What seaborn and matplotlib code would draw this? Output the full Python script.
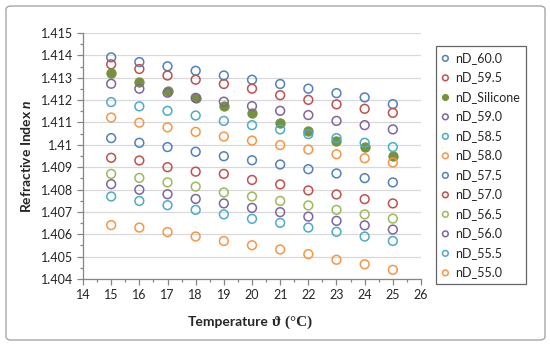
import matplotlib
matplotlib.use("Agg")
import matplotlib.pyplot as plt
import numpy as np
import pandas as pd
import seaborn as sns
from matplotlib.patches import FancyBboxPatch
from matplotlib.ticker import FuncFormatter, MultipleLocator

temperature = [15, 16, 17, 18, 19, 20, 21, 22, 23, 24, 25]

nd_60_0 = [1.41391, 1.41370, 1.41351, 1.41331, 1.41310, 1.41291, 1.41272, 1.41251, 1.41231, 1.41212, 1.41182]
nd_59_5 = [1.41360, 1.41339, 1.41310, 1.41291, 1.41272, 1.41251, 1.41222, 1.41201, 1.41181, 1.41161, 1.41143]
nd_silicone = [1.41321, 1.41282, 1.41242, 1.41210, 1.41172, 1.41143, 1.41099, 1.41060, 1.41018, 1.40990, 1.40950]
nd_59_0 = [1.41273, 1.41251, 1.41233, 1.41210, 1.41193, 1.41173, 1.41152, 1.41133, 1.41107, 1.41088, 1.41069]
nd_58_5 = [1.41191, 1.41172, 1.41152, 1.41131, 1.41107, 1.41088, 1.41069, 1.41048, 1.41030, 1.41009, 1.40990]
nd_58_0 = [1.41122, 1.41099, 1.41078, 1.41058, 1.41037, 1.41019, 1.40999, 1.40979, 1.40958, 1.40940, 1.40921]
nd_57_5 = [1.41030, 1.41009, 1.40990, 1.40969, 1.40949, 1.40931, 1.40912, 1.40891, 1.40872, 1.40851, 1.40832]
nd_57_0 = [1.40942, 1.40930, 1.40900, 1.40880, 1.40870, 1.40843, 1.40823, 1.40796, 1.40778, 1.40757, 1.40738]
nd_56_5 = [1.40870, 1.40852, 1.40832, 1.40813, 1.40787, 1.40769, 1.40749, 1.40729, 1.40709, 1.40689, 1.40670]
nd_56_0 = [1.40824, 1.40799, 1.40779, 1.40758, 1.40738, 1.40718, 1.40699, 1.40679, 1.40660, 1.40640, 1.40621]
nd_55_5 = [1.40769, 1.40749, 1.40730, 1.40709, 1.40689, 1.40669, 1.40651, 1.40630, 1.40611, 1.40590, 1.40570]
nd_55_0 = [1.40641, 1.40630, 1.40610, 1.40590, 1.40570, 1.40551, 1.40532, 1.40511, 1.40486, 1.40466, 1.40441]

series_names = ["nD_60.0", "nD_59.5", "nD_Silicone", "nD_59.0", "nD_58.5", "nD_58.0",
                "nD_57.5", "nD_57.0", "nD_56.5", "nD_56.0", "nD_55.5", "nD_55.0"]
series_values = [nd_60_0, nd_59_5, nd_silicone, nd_59_0, nd_58_5, nd_58_0,
                 nd_57_5, nd_57_0, nd_56_5, nd_56_0, nd_55_5, nd_55_0]

# excel 2010 palette
blue, red, green, purple, cyan, orange = "#4F81BD", "#C0504D", "#9BBB59", "#8064A2", "#4BACC6", "#F79646"
series_colors = [blue, red, "#76923C", purple, cyan, orange,
                 blue, red, green, purple, cyan, orange]

df = pd.DataFrame({
    "series": np.repeat(series_names, len(temperature)),
    "T": temperature * len(series_names),
    "n": np.concatenate(series_values),
})

sns.set_style("white")
plt.rcParams["font.family"] = ["Lato", "DejaVu Sans"]
plt.rcParams["mathtext.fontset"] = "custom"
plt.rcParams["mathtext.it"] = "Lato:italic:bold"

fig = plt.figure(figsize=(5.5, 3.5), dpi=100)
ax = fig.add_axes([83 / 550, 1 - 279 / 350, 338 / 550, 246 / 350])

for name, col in zip(series_names, series_colors):
    sub = df[df["series"] == name]
    if name == "nD_Silicone":
        sns.scatterplot(data=sub, x="T", y="n", ax=ax, color=col, edgecolor=col,
                        s=44, linewidth=0.8, label=name, zorder=3)
    else:
        sns.scatterplot(data=sub, x="T", y="n", ax=ax, color=col, facecolor="none",
                        edgecolor=col, s=40, linewidth=1.1, label=name, zorder=3)

ax.set_xlim(14, 26)
ax.set_ylim(1.404, 1.415)
ax.xaxis.set_major_locator(MultipleLocator(1))
ax.xaxis.set_minor_locator(MultipleLocator(0.5))
ax.yaxis.set_major_locator(MultipleLocator(0.001))
ax.yaxis.set_minor_locator(MultipleLocator(0.0005))
ax.yaxis.set_major_formatter(FuncFormatter(lambda v, p: format(round(v, 3), "g")))

ax.grid(axis="y", which="major", color="#D9D9D9", linewidth=0.9)
ax.set_axisbelow(True)
for side in ["top", "right"]:
    ax.spines[side].set_visible(False)
for side in ["left", "bottom"]:
    ax.spines[side].set_color("#868686")
    ax.spines[side].set_linewidth(0.9)
ax.tick_params(which="major", length=4, width=0.9, color="#868686",
               labelsize=9, labelcolor="#262626", pad=3)
ax.tick_params(which="minor", length=2.5, width=0.9, color="#868686")
ax.tick_params(axis="x", which="both", bottom=True, direction="out")
ax.tick_params(axis="y", which="both", left=True, direction="out")

ax.set_xlabel("")
ax.set_ylabel("Refractive Index $n$", fontsize=10, fontweight="bold", labelpad=6)
fig.text(269 / 550, 1 - 322 / 350, "Temperature", ha="right", va="center",
         fontsize=10, fontweight="bold")
fig.text(272 / 550, 1 - 322 / 350, "ϑ (°C)", ha="left", va="center",
         fontsize=11, fontweight="bold", family="Liberation Serif")

handles, labels = ax.get_legend_handles_labels()
ax.get_legend().remove()
leg = fig.legend(handles, labels, loc="upper left", bbox_to_anchor=(436 / 550, 1 - 46 / 350),
                 fontsize=9, frameon=True, fancybox=False, labelspacing=0.6,
                 markerscale=0.65, handlelength=0.6, handletextpad=0.5,
                 borderpad=0.45, borderaxespad=0)
leg.get_frame().set_edgecolor("#404040")
leg.get_frame().set_linewidth(0.9)

fig.patches.append(FancyBboxPatch((6 / 550, 10 / 350), 539 / 550, 334 / 350,
                                  boxstyle="round,pad=0,rounding_size=0.01",
                                  transform=fig.transFigure, fill=False,
                                  edgecolor="#A6A6A6", linewidth=1))

fig.savefig("out.png", dpi=100)
